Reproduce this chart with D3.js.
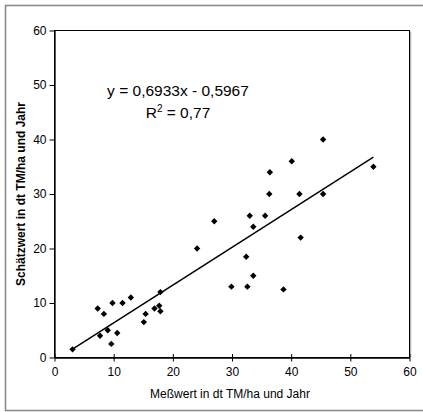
<!DOCTYPE html>
<html>
<head>
<meta charset="utf-8">
<script src="https://cdn.jsdelivr.net/npm/d3@7"></script>
<style>
  body { margin: 0; background: #fff; }
  text { font-family: "Liberation Sans", Arial, sans-serif; fill: #000; }
</style>
</head>
<body>
<svg id="chart" width="423" height="412"></svg>
<script>
// measured values (x) and estimated values (y), dt TM/ha und Jahr
var measured = [3.05, 7.3, 7.7, 8.35, 9.0, 9.6, 9.8, 10.6, 11.5, 12.9, 15.1, 15.4, 16.9, 17.7, 17.9, 17.9,
  24.1, 27.0, 29.9, 32.4, 32.6, 33.0, 33.6, 33.6, 35.6, 36.3, 36.4, 38.7, 40.1, 41.4, 41.6, 45.4, 45.4, 53.9];
var estimated = [1.5, 9.0, 4.0, 8.0, 5.0, 2.5, 10.0, 4.5, 10.0, 11.0, 6.5, 8.0, 9.0, 9.5, 12.0, 8.5,
  20.0, 25.0, 13.0, 18.5, 13.0, 26.0, 15.0, 24.0, 26.0, 30.0, 34.0, 12.5, 36.0, 30.0, 22.0, 40.0, 30.0, 35.0];
var xTicks = [0, 10, 20, 30, 40, 50, 60];
var yTicks = [0, 10, 20, 30, 40, 50, 60];
var slope = 0.6933;
var intercept = -0.5967;
var equationLabel = 'y = 0,6933x - 0,5967';
var r2Value = '0,77';

var svg = d3.select('#chart');
var margin = { left: 54.5, top: 30.5, right: 409.5, bottom: 357.5 };

var x = d3.scaleLinear().domain([0, 60]).range([margin.left, margin.right]);
var y = d3.scaleLinear().domain([0, 60]).range([margin.bottom, margin.top]);

// outer frame
svg.append('rect')
  .attr('x', 5.5).attr('y', 5.5)
  .attr('width', 430).attr('height', 405)
  .attr('fill', 'none')
  .attr('stroke', '#8c8c8c')
  .attr('stroke-width', 1.6);

// plot area border
svg.append('line')
  .attr('x1', margin.right + 1.2).attr('x2', margin.right + 1.2)
  .attr('y1', margin.top + 1).attr('y2', margin.bottom)
  .attr('stroke', '#a0a0a0').attr('stroke-width', 1);
svg.append('rect')
  .attr('x', margin.left).attr('y', margin.top)
  .attr('width', margin.right - margin.left)
  .attr('height', margin.bottom - margin.top)
  .attr('fill', 'none')
  .attr('stroke', '#000')
  .attr('stroke-width', 1);

// x axis, ticks cross the line
var xAxis = svg.append('g')
  .attr('transform', 'translate(0,' + margin.bottom + ')')
  .call(d3.axisBottom(x).tickValues(xTicks).tickSize(4).tickSizeOuter(0).tickFormat(d3.format('d')));
xAxis.select('.domain').attr('stroke', '#000').attr('stroke-width', 1.3);
xAxis.selectAll('.tick line').attr('y1', -3.5).attr('y2', 4);
xAxis.selectAll('.tick text')
  .attr('y', 10)
  .style('font-size', '12px')
  .style('font-family', '"Liberation Sans", Arial, sans-serif');

// y axis
var yAxis = svg.append('g')
  .attr('transform', 'translate(' + margin.left + ',0)')
  .call(d3.axisLeft(y).tickValues(yTicks).tickSize(5).tickSizeOuter(0).tickFormat(d3.format('d')));
yAxis.select('.domain').attr('stroke', '#000').attr('stroke-width', 1.3);
yAxis.selectAll('.tick text')
  .attr('x', -8)
  .style('font-size', '12px')
  .style('font-family', '"Liberation Sans", Arial, sans-serif');

// axis titles
svg.append('text')
  .attr('x', (margin.left + margin.right) / 2 - 2)
  .attr('y', 398)
  .attr('text-anchor', 'middle')
  .style('font-size', '12px')
  .text('Meßwert in dt TM/ha und Jahr');

svg.append('text')
  .attr('transform', 'translate(25,' + ((margin.top + margin.bottom) / 2) + ') rotate(-90)')
  .attr('text-anchor', 'middle')
  .style('font-size', '12px')
  .style('font-weight', 'bold')
  .text('Schätzwert in dt TM/ha und Jahr');

// trend line
var xMin = d3.min(measured);
var xMax = d3.max(measured);
svg.append('line')
  .attr('x1', x(xMin)).attr('y1', y(slope * xMin + intercept))
  .attr('x2', x(xMax)).attr('y2', y(slope * xMax + intercept))
  .attr('stroke', '#000')
  .attr('stroke-width', 1.5);

// points
var pts = measured.map(function (d, i) { return { mx: d, ey: estimated[i] }; });
svg.append('g').selectAll('path')
  .data(pts)
  .enter().append('path')
  .attr('d', function (d) {
    var cx = x(d.mx), cy = y(d.ey), r = 3.2;
    return 'M' + cx + ',' + (cy - r) + 'L' + (cx + r) + ',' + cy + 'L' + cx + ',' + (cy + r) + 'L' + (cx - r) + ',' + cy + 'Z';
  })
  .attr('fill', '#000');

// equation
svg.append('text')
  .attr('x', 178).attr('y', 96)
  .attr('text-anchor', 'middle')
  .style('font-size', '15.5px')
  .text(equationLabel);

var r2 = svg.append('text')
  .attr('x', 178).attr('y', 118)
  .attr('text-anchor', 'middle')
  .style('font-size', '15.5px');
r2.append('tspan').text('R');
r2.append('tspan').attr('dy', -6).style('font-size', '10px').text('2');
r2.append('tspan').attr('dy', 6).text(' = ' + r2Value);
</script>
</body>
</html>
